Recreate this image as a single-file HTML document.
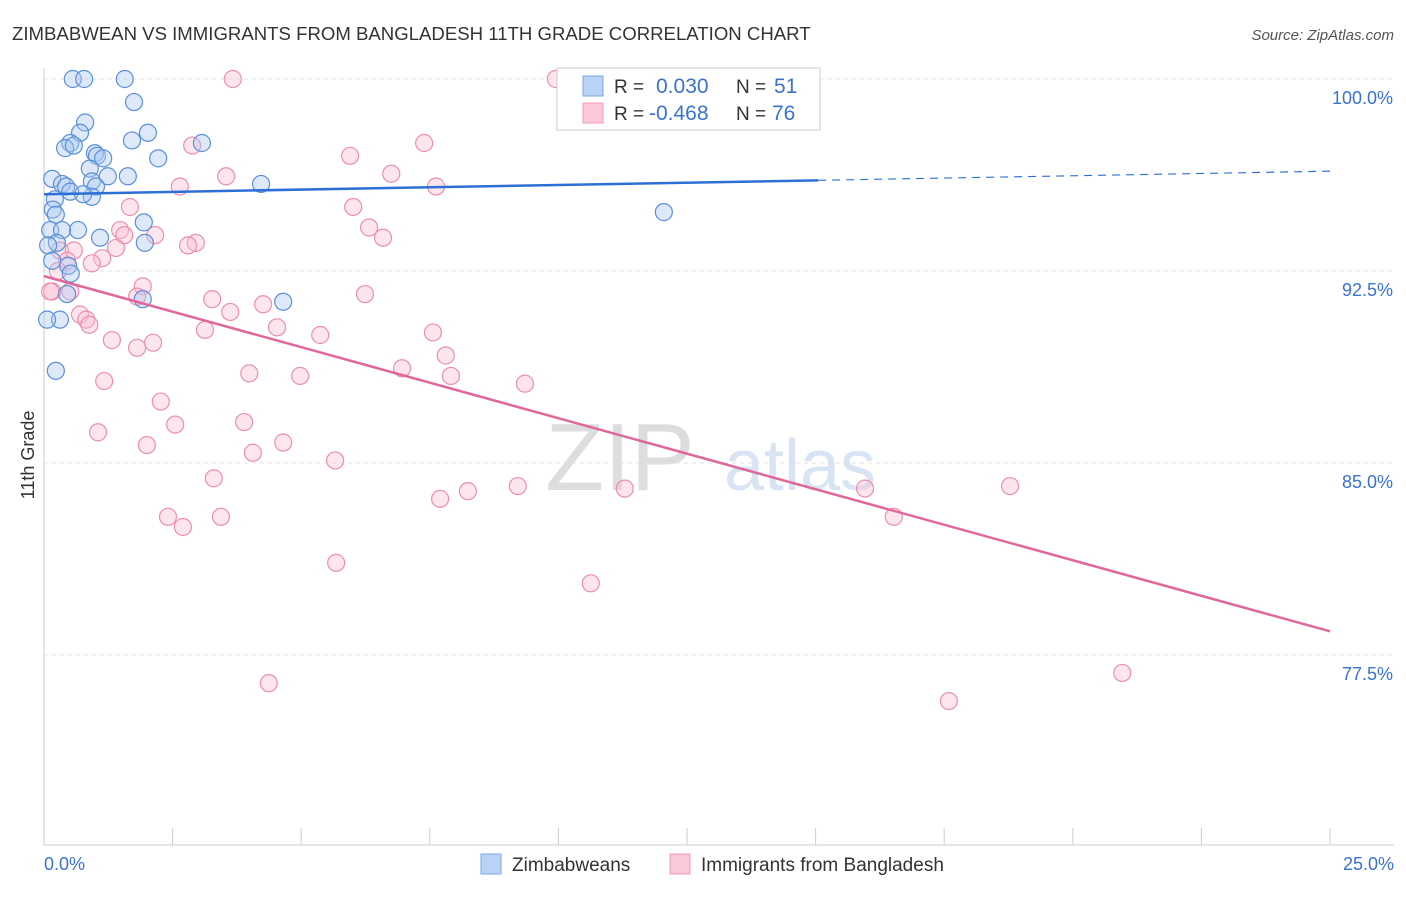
<!DOCTYPE html>
<html><head><meta charset="utf-8"><style>
body{margin:0;background:#fff;font-family:"Liberation Sans",sans-serif;}
svg text{font-family:"Liberation Sans",sans-serif;}
</style></head><body>
<svg id="c" width="1406" height="892">
<text x="12" y="40" font-size="18.6" fill="#333">ZIMBABWEAN VS IMMIGRANTS FROM BANGLADESH 11TH GRADE CORRELATION CHART</text>
<text x="1394" y="40" font-size="15" fill="#555" text-anchor="end" font-style="italic">Source: ZipAtlas.com</text>
<text x="620" y="490" font-size="96" fill="#ddd" font-family="Liberation Serif" text-anchor="middle">ZIP</text>
<text x="800" y="490" font-size="72" fill="#d8e4f4" text-anchor="middle">atlas</text>
<g id="grid"></g><g id="pts"></g><g id="lines"></g>
<text x="34" y="455" font-size="18" fill="#333" transform="rotate(-90 34 455)" text-anchor="middle">11th Grade</text>
<g>
<rect x="557" y="68" width="263" height="62" fill="#fff" stroke="#ccc"/>
<rect x="583" y="76" width="20" height="20" fill="#b9d3f5" stroke="#7aa7e6"/>
<rect x="583" y="103" width="20" height="20" fill="#fbc8d8" stroke="#f09ab6"/>
<text x="614" y="93" font-size="19" fill="#333">R =</text><text x="656" y="93" font-size="21" fill="#3a72d0">0.030</text>
<text x="736" y="93" font-size="19" fill="#333">N =</text><text x="774" y="93" font-size="21" fill="#3a72d0">51</text>
<text x="614" y="120" font-size="19" fill="#333">R =</text><text x="649" y="120" font-size="21" fill="#3a72d0">-0.468</text>
<text x="736" y="120" font-size="19" fill="#333">N =</text><text x="772" y="120" font-size="21" fill="#3a72d0">76</text>
</g>
<g>
<rect x="481" y="854" width="20" height="20" fill="#b9d3f5" stroke="#7aa7e6"/>
<text x="512" y="871" font-size="19" fill="#333">Zimbabweans</text>
<rect x="670" y="854" width="20" height="20" fill="#fbc8d8" stroke="#f09ab6"/>
<text x="701" y="871" font-size="19" fill="#333">Immigrants from Bangladesh</text>
</g>
</svg>
<script>
const yTicks=[100,92.5,85,77.5];
const xTickLabels=["0.0%","25.0%"];
const blueX=[0.56,0.78,1.57,1.75,0.80,0.70,2.02,1.71,3.07,0.51,0.41,0.58,0.99,1.03,1.15,2.22,0.89,1.24,1.63,0.16,0.35,0.43,0.93,1.01,0.51,4.22,0.93,0.76,0.21,0.17,0.23,1.94,0.12,0.66,0.35,1.09,1.96,0.25,0.08,0.16,0.47,0.52,0.45,1.92,4.65,0.31,0.06,0.23,12.05];
const blueY=[100,100,100,99.1,98.3,97.9,97.9,97.6,97.5,97.5,97.3,97.4,97.1,97.0,96.9,96.9,96.5,96.2,96.2,96.1,95.9,95.8,96.0,95.8,95.6,95.9,95.4,95.5,95.3,94.9,94.7,94.4,94.1,94.1,94.1,93.8,93.6,93.6,93.5,92.9,92.7,92.4,91.6,91.4,91.3,90.6,90.6,88.6,94.8];
const pinkX=[3.67,9.95,7.39,2.88,5.95,3.54,6.75,2.64,7.62,1.67,6.01,6.32,1.48,2.16,6.59,1.56,2.95,2.80,0.31,0.58,1.13,1.40,0.45,0.93,0.27,0.16,0.51,1.92,1.81,3.27,6.24,4.26,3.62,0.70,0.82,0.88,4.53,3.13,5.37,7.56,1.32,2.12,1.81,7.81,3.99,6.96,4.98,7.91,9.35,1.17,2.27,2.55,3.89,1.05,2.00,4.65,4.06,5.66,3.30,9.21,8.24,7.70,11.29,15.96,18.78,2.41,3.44,2.70,16.52,5.68,10.63,4.37,20.96,17.59,0.12];
const pinkY=[100,100,97.5,97.4,97.0,96.2,96.3,95.8,95.8,95.0,95.0,94.2,94.1,93.9,93.8,93.9,93.6,93.5,93.3,93.3,93.0,93.4,92.9,92.8,92.5,91.7,91.7,91.9,91.5,91.4,91.6,91.2,90.9,90.8,90.6,90.4,90.3,90.2,90.0,90.1,89.8,89.7,89.5,89.2,88.5,88.7,88.4,88.4,88.1,88.2,87.4,86.5,86.6,86.2,85.7,85.8,85.4,85.1,84.4,84.1,83.9,83.6,84.0,84.0,84.1,82.9,82.9,82.5,82.9,81.1,80.3,76.4,76.8,75.7,91.7];
const X0=44,X1=1330,Y100=79,PXY=25.6;
const sx=v=>X0+(X1-X0)*v/25, sy=v=>Y100+(100-v)*PXY;
const NS='http://www.w3.org/2000/svg';
function mk(t,a,p){const e=document.createElementNS(NS,t);for(const k in a)e.setAttribute(k,a[k]);p.appendChild(e);return e;}
const grid=document.getElementById('grid');
yTicks.forEach(t=>{
 const l=mk('line',{x1:X0,x2:1394,y1:sy(t),y2:sy(t),stroke:'#e2e2e2','stroke-dasharray':'4,4'},grid);
 
 
 const tx=mk('text',{x:1393,y:sy(t)+25,'font-size':18,fill:'#3a72d0','text-anchor':'end'},grid);
 tx.textContent=t.toFixed(1)+'%';
 
 
});
mk('line',{x1:X0,x2:X0,y1:68,y2:845,stroke:'#ccc'},grid);
mk('line',{x1:X0,x2:1394,y1:845,y2:845,stroke:'#ccc'},grid);
for(let i=0;i<=10;i++){const x=sx(i*2.5);mk('line',{x1:x,x2:x,y1:828,y2:845,stroke:'#ccc'},grid);}
xTickLabels.forEach((s,i)=>{const tx=mk('text',{x:i?1394:44,y:870,'font-size':18,fill:'#3a72d0','text-anchor':i?'end':'start'},grid);tx.textContent=s;
 
 });
const pts=document.getElementById('pts');
function dots(xs,ys,f,s,name){xs.forEach((x,i)=>{const c=mk('circle',{cx:sx(x),cy:sy(ys[i]),r:8.5,fill:f,'fill-opacity':0.4,stroke:s,'stroke-width':1.2},pts);
 
 });}
dots(pinkX,pinkY,'#f9bfd2','#eb8fae','bangladesh-point');
dots(blueX,blueY,'#a9c8f0','#5b8fd8','zimbabwean-point');
const lines=document.getElementById('lines');
const bl=[95.5,0.036], pl=[92.3,-0.555];
let l=mk('line',{x1:sx(0),y1:sy(bl[0]),x2:sx(15.05),y2:sy(bl[0]+bl[1]*15.05),stroke:'#2d6fd6','stroke-width':2.5},lines);

l=mk('line',{x1:sx(15.05),y1:sy(bl[0]+bl[1]*15.05),x2:sx(25),y2:sy(bl[0]+bl[1]*25),stroke:'#2d6fd6','stroke-width':1.2,'stroke-dasharray':'8,6'},lines);

l=mk('line',{x1:sx(0),y1:sy(pl[0]),x2:sx(25),y2:sy(pl[0]+pl[1]*25),stroke:'#e0679a','stroke-width':2.5},lines);

</script>
</body></html>
